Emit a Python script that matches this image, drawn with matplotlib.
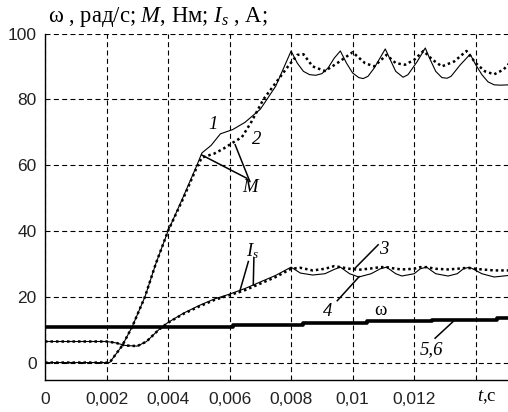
# -*- coding: utf-8 -*-
import numpy as np
import matplotlib
matplotlib.use("Agg")
import matplotlib.pyplot as plt

plt.rcParams['mathtext.fontset'] = 'custom'
plt.rcParams['mathtext.rm'] = 'Liberation Serif'
plt.rcParams['mathtext.it'] = 'Liberation Serif:italic'

# moment M, curve 1 (solid) and curve 2 (dotted)
t_m1 = [0, 0.0021, 0.0025, 0.00283, 0.00325, 0.0036, 0.004, 0.0045, 0.00494, 0.0051, 0.0054,
        0.0057, 0.0061, 0.0065, 0.0070, 0.0075, 0.0080, 0.0082, 0.0084, 0.0086, 0.0088, 0.0090,
        0.0092, 0.0094, 0.0096, 0.0098, 0.0100, 0.0102, 0.01034, 0.0105, 0.0107, 0.01106, 0.0112,
        0.0114, 0.01164, 0.0118, 0.0121, 0.01236, 0.0125, 0.0127, 0.0129, 0.01307, 0.0132, 0.0135,
        0.01382, 0.0140, 0.0142, 0.0144, 0.0146, 0.0148, 0.0151]
m1 = [0, 0, 5, 10.8, 20, 30, 40, 50.5, 60, 63.7, 66,
      69.5, 70.8, 73, 77, 84, 94.7, 91, 88.5, 87.5, 87.3, 87.8,
      89.5, 92.5, 94.7, 91, 88, 86.6, 86.3, 87, 89.5, 95.3, 92.5,
      88.5, 86.7, 87.5, 91.5, 95.6, 92.5, 88.5, 86.6, 86.4, 87, 90.5,
      93.7, 90.5, 87.5, 85.3, 84.4, 84.3, 84.4]

t_m2 = [0, 0.0021, 0.0025, 0.00283, 0.00325, 0.0036, 0.004, 0.0045, 0.00494, 0.0051, 0.0055,
        0.0058, 0.0061, 0.0064, 0.0067, 0.0071, 0.0075, 0.0079, 0.0082, 0.0084, 0.0087, 0.0091,
        0.0095, 0.0100, 0.0104, 0.0107, 0.0111, 0.0114, 0.0117, 0.0120, 0.0123, 0.0126, 0.0129,
        0.0133, 0.0137, 0.0140, 0.0143, 0.0146, 0.0149, 0.0151]
m2 = [0, 0, 5, 10.8, 20, 30, 40, 50, 59.5, 62.3, 63.5,
      65, 66.8, 68.5, 73, 80, 85, 90, 93.5, 93.7, 90, 88.6,
      91, 94.3, 91, 90, 93.5, 91, 90.5, 92, 94.7, 92, 90,
      91.5, 94.7, 91, 88.5, 87.6, 89, 91]

# stator current I_s, curve 3 (dotted) and curve 4 (solid)
t_i = [0, 0.002, 0.0023, 0.0026, 0.003, 0.0033, 0.0037, 0.004, 0.0045, 0.005, 0.0055, 0.006,
       0.0065, 0.007, 0.0075, 0.008, 0.0083, 0.0087, 0.0091, 0.0094, 0.0096, 0.0099, 0.0102,
       0.0106, 0.0109, 0.0111, 0.0114, 0.0116, 0.0120, 0.0122, 0.0124, 0.0127, 0.0131, 0.0134,
       0.0136, 0.0138, 0.0142, 0.0146, 0.0151]
i4 = [6.4, 6.4, 6.0, 5.2, 5.0, 6.4, 10, 12.2, 15, 17.3, 19.3, 20.8,
      22.5, 24.5, 26.5, 29, 27.2, 26.6, 27, 28.3, 29, 27, 26,
      27, 28.5, 29, 27, 26.3, 27, 28.5, 29, 27, 26.3, 27,
      28.5, 29, 27, 26, 26.5]
i3 = [6.4, 6.4, 6.0, 5.2, 5.0, 6.4, 10, 12.1, 14.8, 17, 19, 20.5,
      22, 24, 26, 28.5, 28.8, 28, 28.5, 29.3, 29, 28.5, 28.2,
      28.6, 29, 29, 28.5, 28.3, 28.5, 29, 29, 28.5, 28.3, 28.5,
      28.7, 28.7, 28.3, 28, 28]

# speed omega, curves 5 and 6 (coincide)
t_w = [0, 0.0061, 0.0061, 0.0084, 0.0084, 0.01046, 0.01046, 0.01257, 0.01257, 0.01468, 0.01468, 0.0151]
w = [10.9, 10.9, 11.3, 11.3, 11.9, 11.9, 12.5, 12.5, 13.0, 13.0, 13.5, 13.5]

xticks = [0, 0.002, 0.004, 0.006, 0.008, 0.010, 0.012, 0.014]
xticklabels = ["0", "0,002", "0,004", "0,006", "0,008", "0,01", "0,012", ""]
yticks = [0, 20, 40, 60, 80, 100]

fig = plt.figure(figsize=(5.08, 4.12), dpi=100)
ax = fig.add_axes([45 / 508, 1 - 380 / 412, 1 - 45 / 508, (380 - 33.5) / 412])

dot = (0, (1, 1.2))
ax.plot(t_m1, m1, color='k', lw=0.8)
ax.plot(t_m2, m2, color='k', lw=1.8, linestyle=dot)
ax.plot(t_i, i4, color='k', lw=0.8)
ax.plot(t_i, i3, color='k', lw=1.8, linestyle=dot)
ax.plot(t_w, w, color='k', lw=2.6, solid_capstyle='butt')

ax.set_xlim(0, 463 / 30765)
ax.set_ylim(-5.3, 100)
ax.set_xticks(xticks)
ax.set_xticklabels(xticklabels)
ax.set_yticks(yticks)
for lab in ax.get_xticklabels() + ax.get_yticklabels():
    lab.set_family('Liberation Sans')
    lab.set_fontsize(12.5)
    lab.set_color('#222222')
ax.tick_params(length=0, pad=9)
ax.tick_params(axis='y', pad=6)
ax.grid(True, color='k', lw=0.8, linestyle=(0, (4.5, 3)))
ax.spines['top'].set_visible(False)
ax.spines['right'].set_visible(False)
ax.spines['left'].set_linewidth(1.0)
ax.spines['bottom'].set_linewidth(1.0)

serif = dict(family='Liberation Serif', fontsize=13.5, ha='center', va='center')
ax.text(0.00546, 72.2, "1", style='italic', **serif)
ax.text(0.00689, 67.7, "2", style='italic', **serif)
ax.text(0.00666, 53.1, "M", style='italic', **serif)
ax.text(0.00676, 34.0, "$I_s$", **serif)
ax.text(0.0110, 34.3, "3", style='italic', **serif)
ax.text(0.0092, 15.5, "4", style='italic', **serif)
ax.text(0.01089, 15.8, "ω", **serif)
ax.text(0.01257, 3.9, "5,6", style='italic', **serif)
ax.text(0.01437, -10.4, "$t$,c", clip_on=False, **serif)

# leader lines
leaders = [((0.00509, 63.1), (0.00656, 56.0)),
           ((0.00618, 66.2), (0.00666, 55.0)),
           ((0.00661, 30.7), (0.00632, 21.3)),
           ((0.00679, 31.8), (0.00677, 23.6)),
           ((0.01083, 35.8), (0.01008, 28.7)),
           ((0.0095, 18.8), (0.01021, 26.1)),
           ((0.01268, 7.4), (0.01327, 12.5))]
for (x0, y0), (x1, y1) in leaders:
    ax.plot([x0, x1], [y0, y1], color='k', lw=1.1)

fig.text(48 / 508, 1 - 22 / 412, "ω , рад/с; $M$, Нм; $I_s$ , А;",
         family='Liberation Serif', fontsize=16.3, ha='left', va='baseline')

plt.savefig("out.png", dpi=100)
